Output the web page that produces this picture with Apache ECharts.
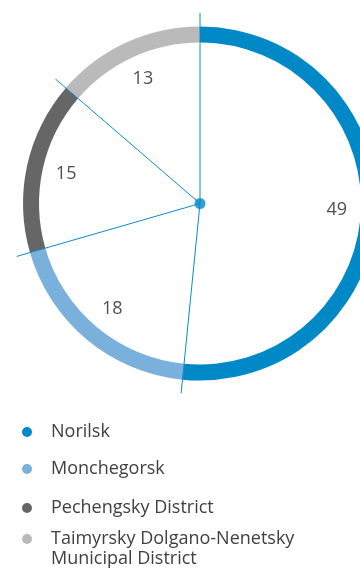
<!DOCTYPE html>
<html>
<head>
<meta charset="utf-8">
<style>
  html, body { margin: 0; padding: 0; background: #ffffff; }
  #chart { width: 360px; height: 568px; }
</style>
<script src="https://cdn.jsdelivr.net/npm/echarts@6/dist/echarts.min.js"></script>
</head>
<body>
<div id="chart"></div>
<script>
// Share of output by location
const categories = ['Norilsk', 'Monchegorsk', 'Pechengsky District', 'Taimyrsky Dolgano-Nenetsky Municipal District'];
const legendLabels = ['Norilsk', 'Monchegorsk', 'Pechengsky District', ' \nTaimyrsky Dolgano-Nenetsky\nMunicipal District'];
const values = [49, 18, 15, 13];
const colors = ['#0088c7', '#7ab0dc', '#666666', '#b9bab9'];

const FONT = '"Open Sans", Lato, sans-serif';
const CENTER = [200, 203.5];
const RING = [161, 177];
const SPOKE_RADIUS = 191;
const LABEL_RADIUS = 137 / SPOKE_RADIUS;
const LINE_COLOR = '#0a8ccb';

const total = values.reduce((a, b) => a + b, 0);

// cumulative boundaries between segments, in value units
const bounds = [];
let acc = 0;
values.forEach(v => { bounds.push(acc); acc += v; });

// middle of each segment, in value units
const mids = values.map((v, i) => bounds[i] + v / 2);

const chart = echarts.init(document.getElementById('chart'), null, { renderer: 'canvas' });

const spokeSeries = bounds.map(b => ({
  type: 'line',
  coordinateSystem: 'polar',
  data: [[0, b], [1, b]],
  symbol: 'none',
  silent: true,
  lineStyle: { color: LINE_COLOR, width: 1 },
  z: 5
}));

// legend entries stacked at their own vertical offsets
const legendTops = [422, 459, 498, 509];
const legends = categories.map((name, i) => ({
  data: [{ name: name, icon: 'circle' }],
  orient: 'vertical',
  left: 22,
  top: legendTops[i],
  padding: 0,
  itemWidth: 38,
  itemHeight: 10,
  selectedMode: false,
  formatter: () => legendLabels[i],
  textStyle: {
    fontFamily: FONT,
    fontSize: 18,
    color: '#404040',
    lineHeight: 20
  }
}));

chart.setOption({
  animation: false,
  color: colors,
  legend: legends,
  polar: { center: CENTER, radius: SPOKE_RADIUS },
  angleAxis: {
    type: 'value', min: 0, max: total, startAngle: 90, clockwise: true,
    show: false, axisLine: { show: false }, splitLine: { show: false }
  },
  radiusAxis: { type: 'value', min: 0, max: 1, show: false, splitLine: { show: false } },
  series: [
    {
      type: 'pie',
      center: CENTER,
      radius: RING,
      startAngle: 90,
      clockwise: true,
      silent: true,
      label: { show: false },
      labelLine: { show: false },
      emphasis: { disabled: true },
      data: categories.map((name, i) => ({ name: name, value: values[i], itemStyle: { color: colors[i] } })),
      z: 2
    },
    ...spokeSeries,
    {
      type: 'scatter',
      coordinateSystem: 'polar',
      symbolSize: 0,
      silent: true,
      data: mids.map((m, i) => [LABEL_RADIUS, m, values[i]]),
      label: {
        show: true,
        position: 'inside',
        formatter: p => String(p.value[2]),
        fontFamily: FONT,
        fontSize: 18,
        color: '#222222'
      },
      z: 6
    },
    {
      type: 'scatter',
      coordinateSystem: 'polar',
      symbol: 'circle',
      symbolSize: 11,
      silent: true,
      itemStyle: { color: '#0088c7' },
      data: [[0, 0]],
      z: 7
    }
  ]
});
</script>
</body>
</html>
